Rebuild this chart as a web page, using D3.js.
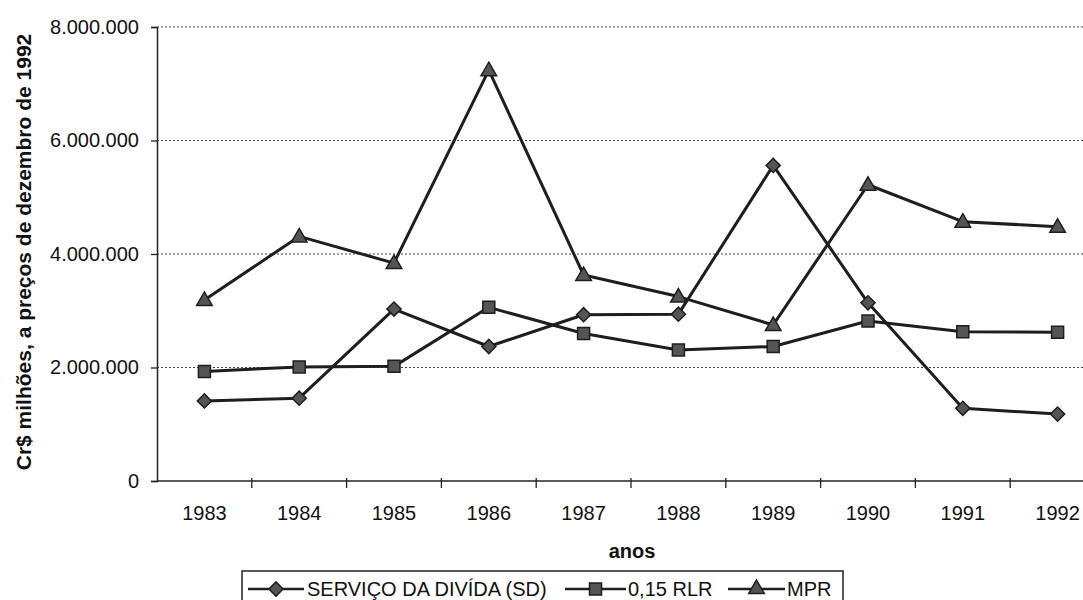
<!DOCTYPE html>
<html>
<head>
<meta charset="utf-8">
<script src="https://cdn.jsdelivr.net/npm/d3@7"></script>
<style>
  html, body { margin: 0; padding: 0; background: #fff; }
  svg { display: block; font-family: Arial, "Liberation Sans", sans-serif; }
</style>
</head>
<body>
<svg id="chart" width="1083" height="600"></svg>
<script>
// Anos da série
const years = ["1983","1984","1985","1986","1987","1988","1989","1990","1991","1992"];

// Cr$ milhões, a preços de dezembro de 1992
const servicoDivida = [1410000, 1460000, 3030000, 2370000, 2930000, 2940000, 5560000, 3140000, 1280000, 1180000];
const rlr015        = [1930000, 2010000, 2020000, 3060000, 2600000, 2310000, 2370000, 2820000, 2630000, 2620000];
const mpr           = [3190000, 4310000, 3840000, 7240000, 3630000, 3250000, 2750000, 5220000, 4570000, 4480000];

const yTicks = [0, 2000000, 4000000, 6000000, 8000000];

const seriesNames = ["SERVIÇO DA DIVÍDA (SD)", "0,15 RLR", "MPR"];
const seriesValues = [servicoDivida, rlr015, mpr];

// marcadores: losango (quadrado girado), quadrado, triângulo
const markerPath = [
  d3.symbol().type(d3.symbolSquare).size(100)(),
  d3.symbol().type(d3.symbolSquare).size(144)(),
  d3.symbol().type(d3.symbolTriangle).size(105)()
];
const markerRotate = [45, 0, 0];

const svg = d3.select("#chart");
const W = 1083, H = 600;
const plotLeft = 157, plotRight = 1105, plotTop = 27, plotBottom = 481;

const x = d3.scaleBand().domain(years).range([plotLeft, plotRight]);
const y = d3.scaleLinear().domain([0, 8000000]).range([plotBottom, plotTop]);
const cx = d => x(d) + x.bandwidth() / 2;

const fmt = v => d3.format(",")(v).replace(/,/g, ".");

svg.append("defs").append("clipPath").attr("id", "frame")
  .append("rect").attr("x", 0).attr("y", 0).attr("width", W).attr("height", H);
const root = svg.append("g").attr("clip-path", "url(#frame)");

// linhas de grade pontilhadas
root.append("g").selectAll("line")
  .data(yTicks.filter(t => t > 0))
  .join("line")
  .attr("x1", plotLeft).attr("x2", plotRight)
  .attr("y1", d => y(d)).attr("y2", d => y(d))
  .attr("stroke", "#444").attr("stroke-width", 1.2)
  .attr("stroke-dasharray", "2,2");

// eixo Y
const yAxis = d3.axisLeft(y).tickValues(yTicks).tickFormat(fmt).tickSize(6).tickPadding(12);
const gy = root.append("g").attr("transform", `translate(${plotLeft},0)`).call(yAxis);
gy.select(".domain").attr("stroke", "#222").attr("stroke-width", 1.5);
gy.selectAll(".tick line").attr("stroke", "#222").attr("stroke-width", 1.3);
gy.selectAll(".tick text").attr("font-size", 20).attr("fill", "#111")
  .attr("font-family", "Arial, 'Liberation Sans', sans-serif");

// eixo X: marcas entre as categorias
const boundaries = years.map(d => x(d)).slice(1).concat([plotRight]);
const gx = root.append("g");
gx.append("line").attr("x1", plotLeft).attr("x2", plotRight).attr("y1", plotBottom).attr("y2", plotBottom)
  .attr("stroke", "#222").attr("stroke-width", 1.5);
gx.selectAll("line.tk").data(boundaries).join("line").attr("class", "tk")
  .attr("x1", d => d).attr("x2", d => d).attr("y1", plotBottom - 3).attr("y2", plotBottom + 7)
  .attr("stroke", "#222").attr("stroke-width", 1.3);
gx.selectAll("text").data(years).join("text")
  .attr("x", d => cx(d)).attr("y", 520)
  .attr("text-anchor", "middle").attr("font-size", 20).attr("fill", "#111")
  .text(d => d);

// títulos dos eixos
root.append("text").attr("x", 632).attr("y", 558).attr("text-anchor", "middle")
  .attr("font-size", 20).attr("font-weight", "bold").attr("fill", "#111").text("anos");
root.append("text").attr("transform", "translate(31,252) rotate(-90)")
  .attr("text-anchor", "middle").attr("font-size", 21).attr("font-weight", "bold").attr("fill", "#111")
  .text("Cr$ milhões, a preços de dezembro de 1992");

// séries
const line = d3.line().x((d, i) => cx(years[i])).y(d => y(d));
seriesValues.forEach((vals) => {
  root.append("path").datum(vals).attr("d", line)
    .attr("fill", "none").attr("stroke", "#1e1e1e").attr("stroke-width", 3)
    .attr("stroke-linejoin", "round");
});
seriesValues.forEach((vals, s) => {
  root.append("g").selectAll("path").data(vals).join("path")
    .attr("d", markerPath[s])
    .attr("transform", (d, i) => `translate(${cx(years[i])},${y(d) + (s === 2 ? 1 : 0)}) rotate(${markerRotate[s]})`)
    .attr("fill", "#555").attr("stroke", "#1e1e1e").attr("stroke-width", 1.5);
});

// legenda
const lg = root.append("g");
lg.append("rect").attr("x", 242).attr("y", 571).attr("width", 601).attr("height", 40)
  .attr("fill", "#fff").attr("stroke", "#222").attr("stroke-width", 1.5);
const legendItems = [
  { x0: 248, x1: 304, tx: 307 },
  { x0: 565, x1: 626, tx: 628 },
  { x0: 728, x1: 785, tx: 787 }
];
legendItems.forEach((it, s) => {
  lg.append("line").attr("x1", it.x0).attr("x2", it.x1).attr("y1", 589).attr("y2", 589)
    .attr("stroke", "#1e1e1e").attr("stroke-width", 2.5);
  lg.append("path").attr("d", markerPath[s])
    .attr("transform", `translate(${(it.x0 + it.x1) / 2},589) rotate(${markerRotate[s]})`)
    .attr("fill", "#555").attr("stroke", "#1e1e1e").attr("stroke-width", 1.5);
  lg.append("text").attr("x", it.tx).attr("y", 596).attr("font-size", 20).attr("fill", "#111")
    .text(seriesNames[s]);
});
</script>
</body>
</html>
